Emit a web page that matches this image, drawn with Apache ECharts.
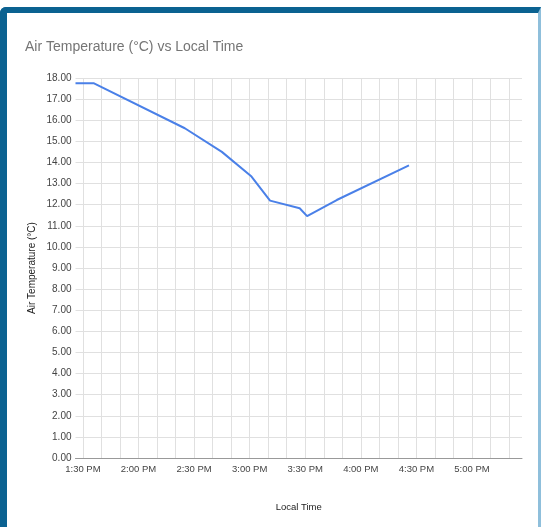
<!DOCTYPE html>
<html>
<head>
<meta charset="utf-8">
<script src="https://cdn.jsdelivr.net/npm/echarts@6/dist/echarts.min.js"></script>
<style>
  html, body { margin: 0; padding: 0; background: #ffffff; }
  #wrap { position: relative; width: 543px; height: 527px; overflow: hidden; background: #fff; }
  #frame { position: absolute; left: 0; top: 7px; width: 531px; height: 540px;
           border-top: 6px solid #0b6291; border-left: 7px solid #0b6291; border-right: 3px solid #8fbfdb;
           border-top-left-radius: 6px; box-sizing: content-box; }
  #chart { position: absolute; left: 0; top: 0; width: 543px; height: 527px; }
</style>
</head>
<body>
<div id="wrap">
  <div id="frame"></div>
  <div id="chart"></div>
</div>
<script>
// Data
const times = ['13:26', '13:36', '14:25', '14:45', '15:01', '15:11', '15:27', '15:31', '15:47', '16:26'];
const temps = [17.75, 17.75, 15.62, 14.50, 13.33, 12.19, 11.83, 11.46, 12.22, 13.86];
const xTickLabels = ['1:30 PM', '2:00 PM', '2:30 PM', '3:00 PM', '3:30 PM', '4:00 PM', '4:30 PM', '5:00 PM'];
const yTicks = [0, 1, 2, 3, 4, 5, 6, 7, 8, 9, 10, 11, 12, 13, 14, 15, 16, 17, 18];

function toMin(s) { const p = s.split(':'); return (+p[0]) * 60 + (+p[1]); }
function labelToMin(s) {
  const m = s.match(/(\d+):(\d+)\s*(AM|PM)/);
  let h = +m[1] % 12; if (m[3] === 'PM') h += 12;
  return h * 60 + (+m[2]);
}
function fmt(v) {
  let h = Math.floor(v / 60), mm = Math.round(v % 60);
  const ap = h >= 12 ? 'PM' : 'AM';
  h = h % 12; if (h === 0) h = 12;
  return h + ':' + (mm < 10 ? '0' : '') + mm + ' ' + ap;
}

const labelVals = xTickLabels.map(labelToMin);
const gridVals = [];
for (let v = labelVals[0]; v <= toMin('17:20'); v += 10) gridVals.push(v);

const seriesData = times.map((t, i) => [toMin(t), temps[i]]);

const chart = echarts.init(document.getElementById('chart'), null, { renderer: 'canvas' });
const FONT = '"Liberation Sans", Arial, sans-serif';
chart.setOption({
  backgroundColor: 'transparent',
  animation: false,
  title: {
    text: 'Air Temperature (°C) vs Local Time',
    left: 25, top: 40, padding: 0,
    textStyle: { fontFamily: FONT, fontSize: 14, fontWeight: 'normal', color: '#757575' }
  },
  grid: { left: 75.5, right: 21, top: 78, bottom: 69, outerBoundsMode: 'none' },
  xAxis: {
    type: 'value',
    min: toMin('13:26'), max: toMin('17:27'),
    name: 'Local Time', nameLocation: 'middle', nameGap: 44, nameMoveOverlap: false,
    nameTextStyle: { fontFamily: FONT, fontSize: 9.5, color: '#222' },
    axisLine: { show: true, lineStyle: { color: '#999', width: 1 } },
    axisTick: { show: false, customValues: gridVals },
    axisLabel: { customValues: labelVals, formatter: fmt, fontFamily: FONT, fontSize: 9.5, color: '#444', margin: 6 },
    splitLine: { show: true, lineStyle: { color: '#e0e0e0', width: 1 } }
  },
  yAxis: {
    type: 'value',
    min: yTicks[0], max: yTicks[yTicks.length - 1], interval: 1,
    name: 'Air Temperature (°C)', nameLocation: 'middle', nameGap: 38, nameRotate: 90, nameMoveOverlap: false,
    nameTextStyle: { fontFamily: FONT, fontSize: 10, color: '#222' },
    axisLine: { show: false },
    axisTick: { show: false },
    axisLabel: { formatter: v => v.toFixed(2), fontFamily: FONT, fontSize: 10, color: '#444', margin: 4 },
    splitLine: { show: true, lineStyle: { color: '#e0e0e0', width: 1 } }
  },
  series: [{
    type: 'line',
    data: seriesData,
    showSymbol: false,
    symbol: 'none',
    lineStyle: { color: '#4a80e8', width: 2 },
    itemStyle: { color: '#4a80e8' }
  }]
});
</script>
</body>
</html>
